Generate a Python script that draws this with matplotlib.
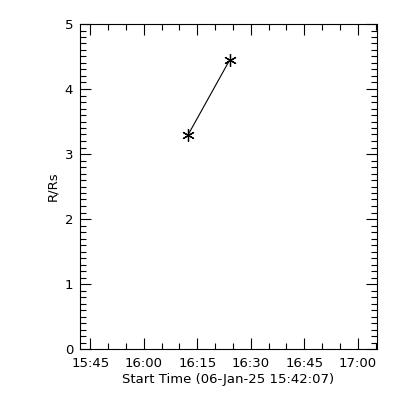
import matplotlib
matplotlib.use("Agg")
import matplotlib.pyplot as plt
from matplotlib.ticker import FixedLocator, MultipleLocator

start = "15:42:07"
times = ["16:12:29", "16:24:08"]
r_rs = [3.30, 4.45]
xticks = ["15:45", "16:00", "16:15", "16:30", "16:45", "17:00"]

def to_min(s):
    p = [int(v) for v in s.split(":")]
    while len(p) < 3:
        p.append(0)
    return p[0] * 60 + p[1] + p[2] / 60.0

t0 = to_min(start)
x = [to_min(t) - t0 for t in times]
xt = [to_min(t) - t0 for t in xticks]

fig = plt.figure(figsize=(4, 4), dpi=100)
ax = fig.add_axes([0.2, 0.1275, 0.7425, 0.8125])

ax.plot(x, r_rs, color="black", lw=0.8, marker=(6, 2, 0), ms=9, mew=0.9)

ax.set_xlim(0, 83.3)
ax.set_ylim(0, 5)
ax.set_xticks(xt, xticks)
ax.xaxis.set_minor_locator(FixedLocator([v + d for v in [xt[0] - 15] + xt for d in (5, 10)]))
ax.yaxis.set_major_locator(MultipleLocator(1))
ax.yaxis.set_minor_locator(MultipleLocator(0.1))

ax.tick_params(which="both", direction="in", top=True, right=True, width=0.8, labelsize=9.5)
ax.tick_params(axis="x", pad=6)
ax.tick_params(axis="y", pad=5)
ax.tick_params(which="major", length=8)
ax.tick_params(which="minor", length=4)
for s in ax.spines.values():
    s.set_linewidth(0.8)

ax.set_xlabel("Start Time (06-Jan-25 15:42:07)", fontsize=9.5, labelpad=2)
ax.set_ylabel("R/Rs", fontsize=9.5, labelpad=4)

fig.savefig("out.png", dpi=100)
